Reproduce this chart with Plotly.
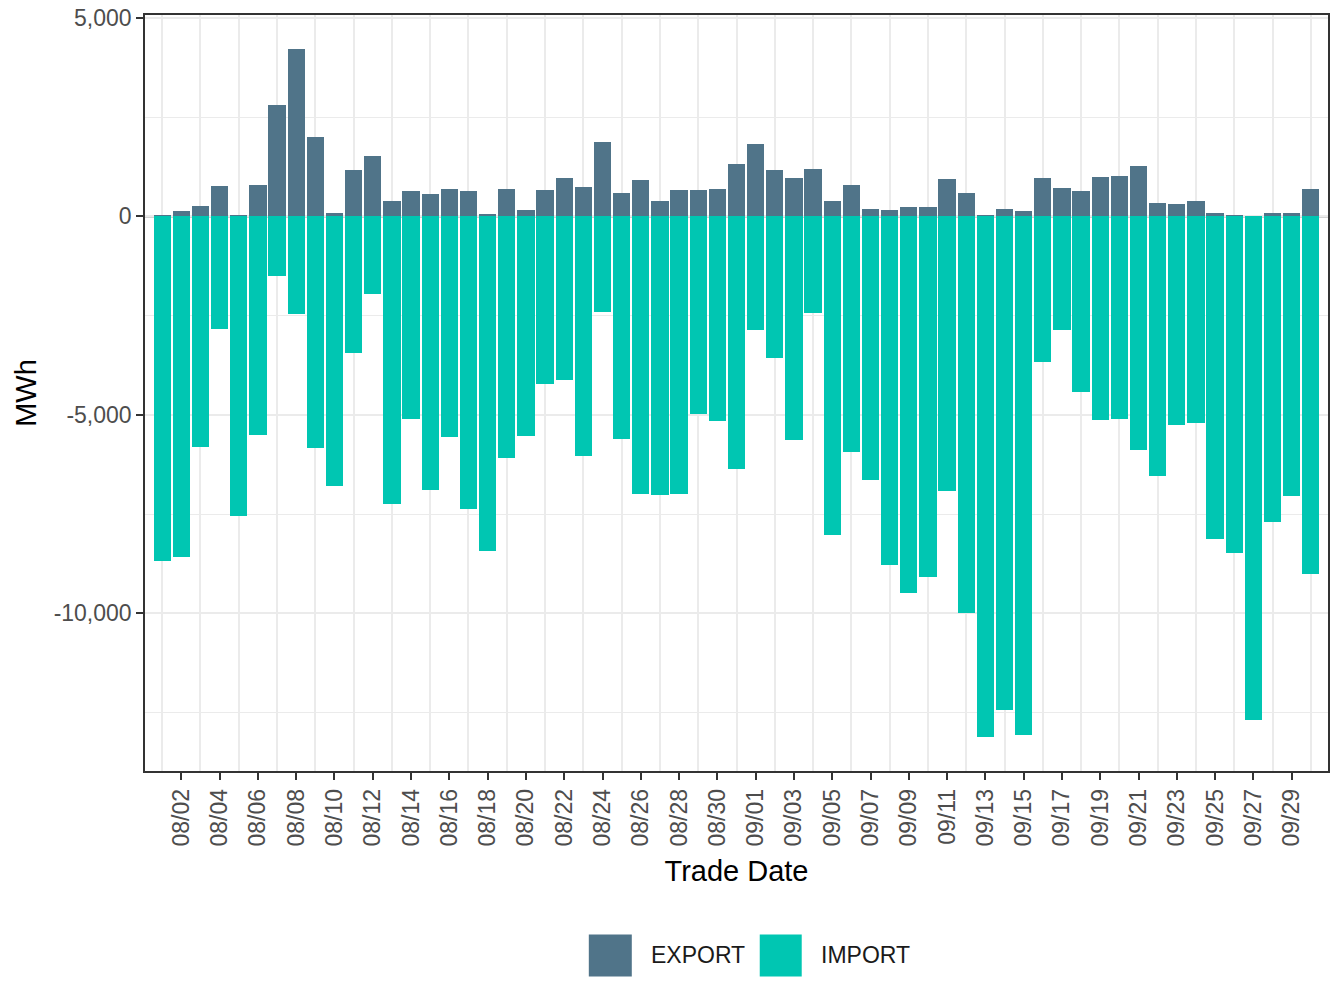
import pandas as pd
import plotly.graph_objects as go

# ---------------- data ----------------
trade_dates = [d.strftime("%Y-%m-%d") for d in pd.date_range("2023-08-01", "2023-09-30", freq="D")]

export_mwh = [30, 125, 275, 755, 25, 780, 2815, 4225, 2010, 75, 1180, 1535, 400, 630, 555,
              680, 630, 50, 680, 150, 655, 980, 730, 1885, 580, 930, 400, 655, 655, 680, 1310,
              1835, 1180, 980, 1205, 400, 780, 200, 150, 250, 250, 955, 580, 25, 175, 125,
              980, 705, 630, 1005, 1030, 1280, 350, 325, 400, 75, 25, 10, 75, 75, 680]

import_mwh = [-8683, -8582, -5814, -2844, -7550, -5512, -1510, -2466, -5839, -6795, -3448,
              -1963, -7248, -5109, -6896, -5562, -7374, -8431, -6091, -5537, -4228, -4128,
              -6040, -2416, -5612, -6997, -7022, -6997, -4990, -5159, -6367,
              -2869, -3574, -5638, -2441, -8029, -5940, -6644, -8792, -9497, -9094, -6921,
              -10000, -13121, -12441, -13070, -3674, -2869, -4430, -5134, -5109, -5889,
              -6544, -5260, -5210, -8129, -8482, -12693, -7701, -7047, -9018]

series_names = ["EXPORT", "IMPORT"]
series_colors = ["#507489", "#00c6b2"]

y_tickvals = [5000, 0, -5000, -10000]
y_ticktext = ["5,000", "0", "-5,000", "-10,000"]
ref_lines = [0, -5000, -10000]

# ---------------- layout geometry ----------------
# page body has an 8px margin, so the figure is drawn 8px smaller and offset
OFF = 8
W, H = 1344 - OFF, 1008 - OFF
L, R, T, B = 145 - OFF, 1328.5 - OFF, 15.3 - OFF, 771.5 - OFF
FONT = "Liberation Sans, Arial, Helvetica, sans-serif"
DAY = 86400000


def px_x(p):
    return (p - OFF - L) / (R - L)


def px_y(p):
    return (B - (p - OFF)) / (B - T)


fig = go.Figure()
fig.add_trace(go.Bar(x=trade_dates, y=export_mwh, name=series_names[0],
                     marker=dict(color=series_colors[0], line=dict(width=0)),
                     width=0.9 * DAY))
fig.add_trace(go.Bar(x=trade_dates, y=import_mwh, name=series_names[1],
                     marker=dict(color=series_colors[1], line=dict(width=0)),
                     width=0.9 * DAY))

shapes = []
for v in ref_lines:
    shapes.append(dict(type="line", xref="paper", x0=0, x1=1, yref="y", y0=v, y1=v,
                       layer="below",
                       line=dict(color="#a8a8a8" if v == 0 else "#555555",
                                 width=2 if v == 0 else 1.4)))

# manual legend (large key squares like ggplot)
annotations = []
legend_items = [(589, 632, 649), (760, 802, 819)]
for (k0, k1, tx), name, col in zip(legend_items, series_names, series_colors):
    shapes.append(dict(type="rect", xref="paper", yref="paper",
                       x0=px_x(k0), x1=px_x(k1), y0=px_y(977), y1=px_y(935),
                       fillcolor=col, line=dict(width=0), layer="above"))
    annotations.append(dict(xref="paper", yref="paper", x=px_x(tx), y=px_y(956),
                            xanchor="left", yanchor="middle", showarrow=False,
                            text=name, font=dict(family=FONT, size=23, color="#1a1a1a")))

fig.update_layout(
    width=W, height=H,
    margin=dict(l=L, r=W - R, t=T, b=H - B, pad=0, autoexpand=False),
    paper_bgcolor="white", plot_bgcolor="white",
    barmode="relative", bargap=0,
    showlegend=False,
    font=dict(family=FONT, size=23, color="#4d4d4d"),
    shapes=shapes, annotations=annotations,
)

fig.update_xaxes(
    type="date", automargin=False,
    range=["2023-07-31 02:26", "2023-09-30 21:34"],
    tick0="2023-08-02", dtick=2 * DAY, tickformat="%m/%d",
    tickangle=-90, ticklabeloverflow="allow",
    tickfont=dict(family=FONT, size=23, color="#4d4d4d"),
    ticks="outside", ticklen=7, tickwidth=2, tickcolor="#333333",
    showgrid=False,
    minor=dict(tick0="2023-08-01", dtick=2 * DAY, showgrid=True,
               gridcolor="#ebebeb", gridwidth=1.5, ticks=""),
    showline=True, mirror=True, linecolor="#333333", linewidth=1.5,
    zeroline=False,
    title=dict(text="Trade Date", font=dict(family=FONT, size=29, color="black"), standoff=15),
)

fig.update_yaxes(
    automargin=False,
    range=[-13972, 5075],
    tickvals=y_tickvals, ticktext=y_ticktext, ticklabeloverflow="allow",
    tickfont=dict(family=FONT, size=23, color="#4d4d4d"),
    ticks="outside", ticklen=7, tickwidth=2, tickcolor="#333333",
    showgrid=True, gridcolor="#ebebeb", gridwidth=1.5,
    minor=dict(dtick=2500, tick0=0, showgrid=True, gridcolor="#ebebeb", gridwidth=1, ticks=""),
    showline=True, mirror=True, linecolor="#333333", linewidth=1.5,
    zeroline=False,
    title=dict(text="MWh", font=dict(family=FONT, size=29, color="black"), standoff=8),
)

fig.write_html("out.html")
